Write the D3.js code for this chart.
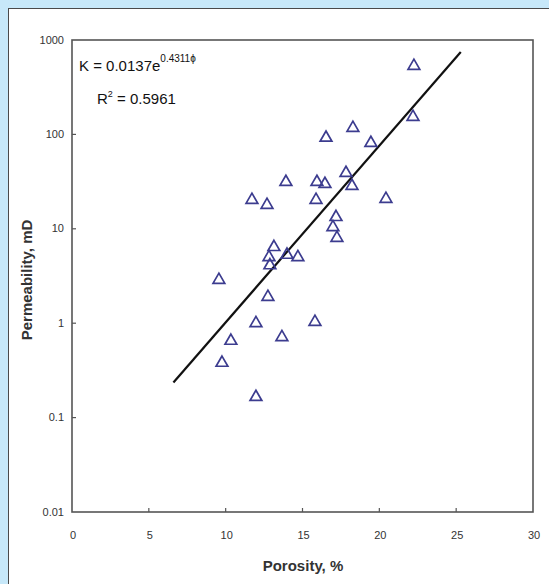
<!DOCTYPE html>
<html><head><meta charset="utf-8">
<script src="https://cdn.jsdelivr.net/npm/d3@7"></script>
<style>
html,body{margin:0;padding:0;background:#c7e8f9;}
svg{display:block;}
text{font-family:"Liberation Sans",Arial,sans-serif;}
</style></head>
<body>
<svg id="chart" width="549" height="584"></svg>
<script>
// Data
const porosity = [22.25,22.19,18.28,16.53,19.45,17.83,13.92,15.94,16.46,18.22,11.71,12.69,15.88,20.43,17.18,16.98,17.24,13.14,12.82,12.88,13.99,14.70,9.56,12.75,11.97,15.81,13.66,10.34,9.76,11.97];
const permeability = [531,153,117,92,81,39,31.3,31.3,29.8,28.4,20.2,17.9,20.2,20.7,13.3,10.4,8.0,6.4,5.0,4.1,5.3,5.0,2.87,1.90,1.0,1.03,0.71,0.65,0.38,0.165];
const xTicks = [0,5,10,15,20,25,30];
const yTicks = [0.01,0.1,1,10,100,1000];
const yTickLabels = ["0.01","0.1","1","10","100","1000"];
const trendCoef = [0.0137, 0.4311];
const trendRange = [6.6, 25.3];

const svg = d3.select("#chart");
// white panel
svg.append("rect").attr("x",8.5).attr("y",8.5).attr("width",560).attr("height",600)
  .attr("fill","#fff").attr("stroke","#4a4a4a").attr("stroke-width",1);

const x = d3.scaleLinear().domain([0,30]).range([72,533]);
const y = d3.scaleLog().domain([0.01,1000]).range([512,40]);

// frame
svg.append("rect").attr("x",72).attr("y",40).attr("width",461).attr("height",472)
  .attr("fill","none").attr("stroke","#555").attr("stroke-width",1.6);

// ticks
const g = svg.append("g");
g.selectAll(".xt").data(xTicks.slice(1,-1)).join("line")
  .attr("x1",d=>x(d)).attr("x2",d=>x(d)).attr("y1",512).attr("y2",508)
  .attr("stroke","#555").attr("stroke-width",1.2);
g.selectAll(".yt").data(yTicks.slice(1,-1)).join("line")
  .attr("y1",d=>y(d)).attr("y2",d=>y(d)).attr("x1",72).attr("x2",76)
  .attr("stroke","#555").attr("stroke-width",1.2);

// tick labels
g.selectAll(".xl").data(xTicks).join("text")
  .attr("x",d=>x(d)+1).attr("y",539).attr("text-anchor","middle")
  .attr("font-size",11).attr("fill","#333").text(d=>d);
g.selectAll(".yl").data(yTicks).join("text")
  .attr("x",64).attr("y",d=>y(d)+3.5).attr("text-anchor","end")
  .attr("font-size",11).attr("fill","#333").text((d,i)=>yTickLabels[i]);

// axis titles
svg.append("text").attr("x",303).attr("y",571).attr("text-anchor","middle")
  .attr("font-size",15).attr("font-weight","bold").attr("fill","#333").text("Porosity, %");
svg.append("text").attr("transform","translate(32,280) rotate(-90)").attr("text-anchor","middle")
  .attr("font-size",15).attr("font-weight","bold").attr("fill","#333").text("Permeability, mD");

// trendline
const line = d3.line().x(d=>x(d)).y(d=>y(trendCoef[0]*Math.exp(trendCoef[1]*d)));
svg.append("path").datum(trendRange).attr("d",line)
  .attr("fill","none").attr("stroke","#111").attr("stroke-width",2.2);

// points (triangles)
const tri = d3.symbol().type(d3.symbolTriangle).size(60);
svg.selectAll(".pt").data(porosity.map((p,i)=>[p,permeability[i]])).join("path")
  .attr("d",tri).attr("transform",d=>`translate(${x(d[0])},${y(d[1])})`)
  .attr("fill","none").attr("stroke","#3c3c8f").attr("stroke-width",1.7);

// equation
const eq = svg.append("text").attr("x",79).attr("y",71).attr("font-size",15).attr("fill","#111");
eq.append("tspan").text("K = 0.0137e");
eq.append("tspan").attr("dy",-9).attr("font-size",10).text("0.4311ϕ");
const r2 = svg.append("text").attr("x",97).attr("y",104).attr("font-size",15).attr("fill","#111");
r2.append("tspan").text("R");
r2.append("tspan").attr("dy",-7).attr("font-size",9).text("2");
r2.append("tspan").attr("dy",7).text(" = 0.5961");
</script>
</body></html>
